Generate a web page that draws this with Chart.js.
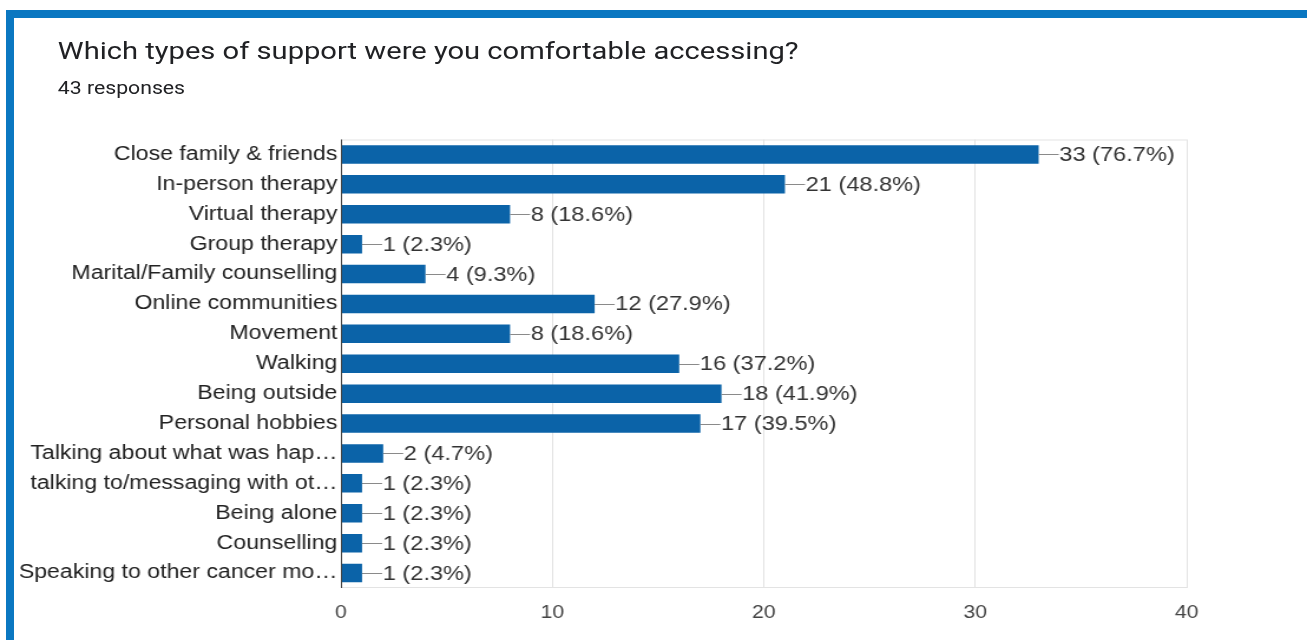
<!DOCTYPE html>
<html>
<head>
<meta charset="utf-8">
<script src="https://cdn.jsdelivr.net/npm/chart.js@4"></script>
<style>
  html, body { margin: 0; padding: 0; background: #fff; width: 1307px; height: 640px; overflow: hidden; }
  #frame { position: absolute; left: 6px; top: 10px; right: 0; bottom: 0; border-left: 8px solid #0a77c1; border-top: 8px solid #0a77c1; }
  #wrap { position: absolute; left: 0; top: 0; width: 1108px; height: 640px; transform: scaleX(1.1796); transform-origin: 0 0; }
  #title { position: absolute; left: 49px; top: 36px; font-family: Roboto, "Liberation Sans", sans-serif; font-size: 24.7px; color: #202124; white-space: nowrap; }
  #sub { position: absolute; left: 49px; top: 77px; font-family: Roboto, "Liberation Sans", sans-serif; font-size: 18px; color: #202124; white-space: nowrap; }
  canvas { position: absolute; left: 0; top: 0; }
</style>
</head>
<body>
<div id="frame"></div>
<div id="wrap">
  <div id="title">Which types of support were you comfortable accessing?</div>
  <div id="sub">43 responses</div>
  <canvas id="c" width="1108" height="640" style="width:1108px;height:640px"></canvas>
</div>
<script>
const categories = [
  "Close family & friends",
  "In-person therapy",
  "Virtual therapy",
  "Group therapy",
  "Marital/Family counselling",
  "Online communities",
  "Movement",
  "Walking",
  "Being outside",
  "Personal hobbies",
  "Talking about what was hap\u2026",
  "talking to/messaging with ot\u2026",
  "Being alone",
  "Counselling",
  "Speaking to other cancer mo\u2026"
];
const counts = [33, 21, 8, 1, 4, 12, 8, 16, 18, 17, 2, 1, 1, 1, 1];
const percents = ["76.7%", "48.8%", "18.6%", "2.3%", "9.3%", "27.9%", "18.6%", "37.2%", "41.9%", "39.5%", "4.7%", "2.3%", "2.3%", "2.3%", "2.3%"];
const xTicks = [0, 10, 20, 30, 40];

const FONT = '"Liberation Sans", Arial, sans-serif';

const boxPlugin = {
  id: 'box',
  beforeDatasetsDraw(chart) {
    const { ctx, chartArea: a } = chart;
    ctx.save();
    ctx.strokeStyle = '#e3e3e3';
    ctx.lineWidth = 1;
    ctx.beginPath();
    ctx.moveTo(a.left, a.top + 0.5); ctx.lineTo(a.right, a.top + 0.5);
    ctx.moveTo(a.left, a.bottom - 0.5); ctx.lineTo(a.right, a.bottom - 0.5);
    ctx.stroke();
    ctx.restore();
  },
  afterDatasetsDraw(chart) {
    const { ctx, chartArea: a } = chart;
    ctx.save();
    ctx.strokeStyle = '#444';
    ctx.lineWidth = 1;
    ctx.beginPath();
    ctx.moveTo(a.left + 0.5, a.top); ctx.lineTo(a.left + 0.5, a.bottom);
    ctx.stroke();
    const meta = chart.getDatasetMeta(0);
    ctx.font = '20px ' + FONT;
    ctx.textBaseline = 'middle';
    ctx.textAlign = 'left';
    meta.data.forEach((bar, i) => {
      const x = bar.x, y = bar.y;
      ctx.strokeStyle = '#8a8a8a';
      ctx.beginPath();
      ctx.moveTo(x, Math.round(y) + 0.5);
      ctx.lineTo(x + 17, Math.round(y) + 0.5);
      ctx.stroke();
      ctx.fillStyle = '#333';
      ctx.fillText(counts[i] + ' (' + percents[i] + ')', x + 17.5, y + 1);
    });
    ctx.restore();
  }
};

new Chart(document.getElementById('c'), {
  type: 'bar',
  data: {
    labels: categories,
    datasets: [{
      data: counts,
      backgroundColor: '#0b63a8',
      borderWidth: 0,
      barPercentage: 0.62,
      categoryPercentage: 1.0
    }]
  },
  options: {
    indexAxis: 'y',
    responsive: false,
    animation: false,
    devicePixelRatio: 1,
    layout: { padding: { top: 139.5, right: 102, left: 0, bottom: 0 } },
    plugins: { legend: { display: false }, tooltip: { enabled: false }, title: { display: false } },
    scales: {
      x: {
        min: 0, max: 40,
        afterFit(s) { s.height = 52; },
        afterBuildTicks(s) { s.ticks = xTicks.map(v => ({ value: v })); },
        grid: { color: '#e3e3e3', drawTicks: false, lineWidth: 1 },
        border: { display: false },
        ticks: { padding: 14, color: '#444', font: { family: FONT, size: 18 } }
      },
      y: {
        afterFit(s) { s.width = 289; },
        grid: { display: false, drawTicks: false },
        border: { display: false },
        ticks: { autoSkip: false, padding: 3, color: '#222', font: { family: FONT, size: 19.6 } }
      }
    }
  },
  plugins: [boxPlugin]
});
</script>
</body>
</html>
